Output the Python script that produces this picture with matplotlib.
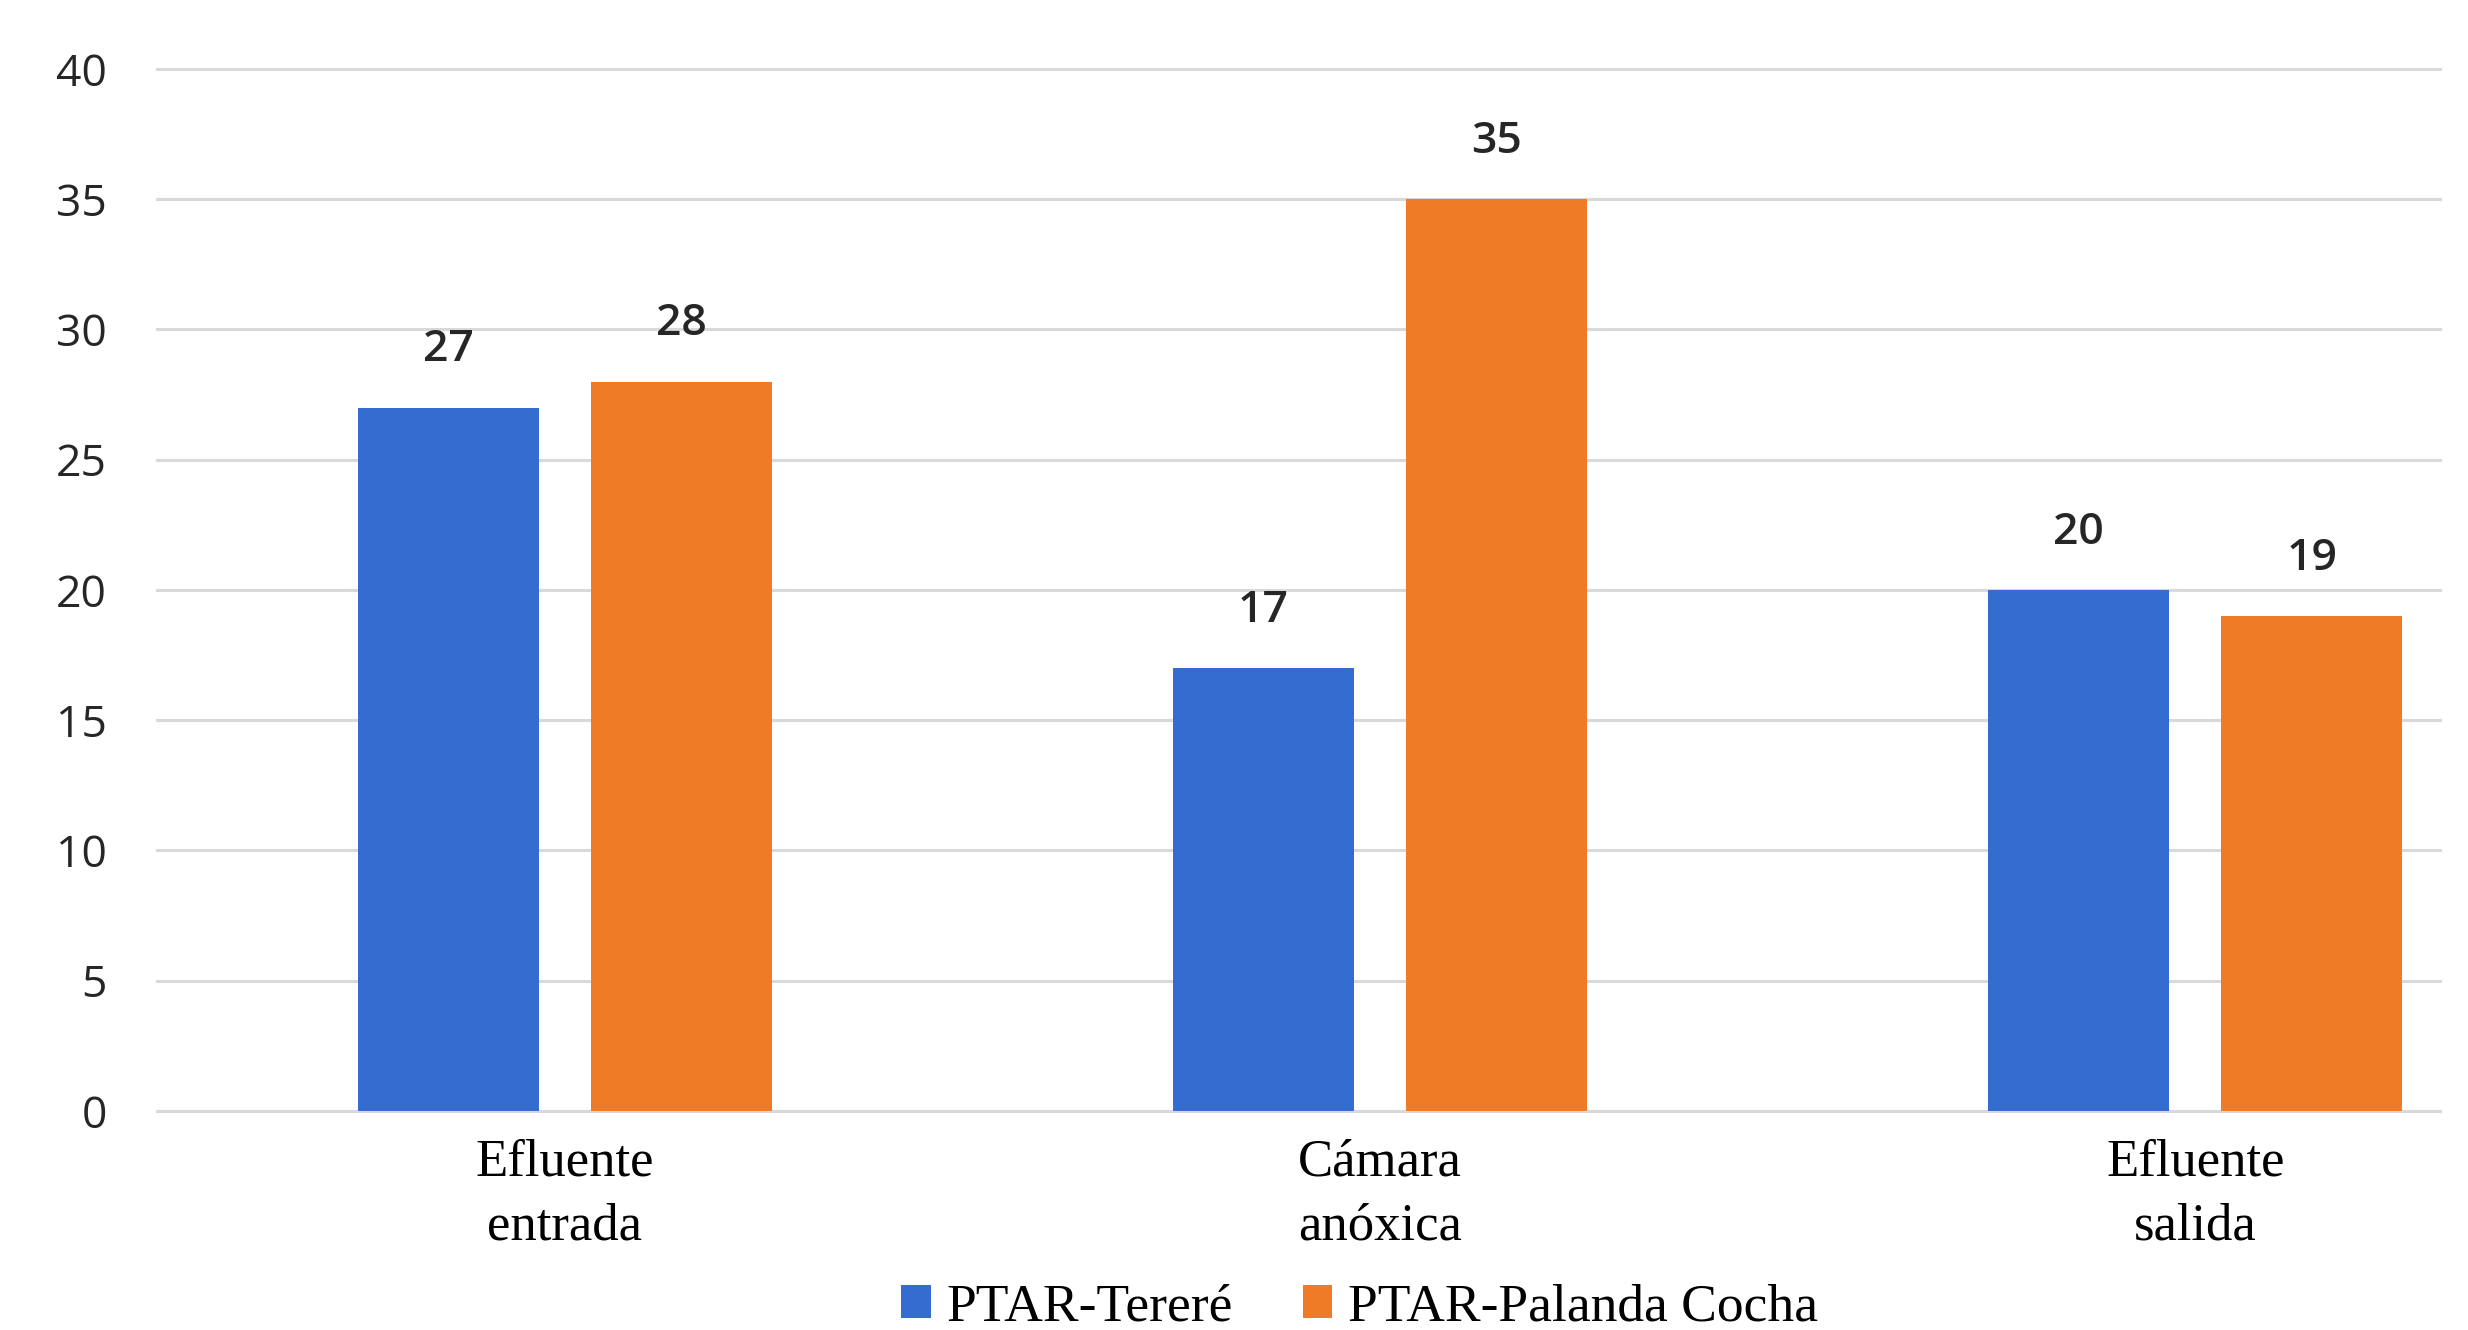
import matplotlib
matplotlib.use("Agg")
import matplotlib.pyplot as plt
import numpy as np

categorias = ["Efluente\nentrada", "Cámara\nanóxica", "Efluente\nsalida"]
series = ["PTAR-Tereré", "PTAR-Palanda Cocha"]
tarere = [27, 17, 20]
palanda = [28, 35, 19]
colores = ["#356CD0", "#EF7B27"]
yticks = [0, 5, 10, 15, 20, 25, 30, 35, 40]

fig = plt.figure(figsize=(24.68, 13.30), dpi=100)
ax = fig.add_axes([0.0636, 0.1647, 0.9250, 0.7835])

x = np.arange(len(categorias))
ancho = 0.222
desp = 0.143
b1 = ax.bar(x - desp, tarere, ancho, color=colores[0], label=series[0], zorder=3)
b2 = ax.bar(x + desp, palanda, ancho, color=colores[1], label=series[1], zorder=3)

for barras in (b1, b2):
    ax.bar_label(barras, padding=26, fontsize=32, fontfamily="Open Sans",
                 fontweight="semibold", color="#262626")

ax.set_xlim(-0.5, 2.30)
ax.set_ylim(0, 40)
ax.set_yticks(yticks)
ax.set_xticks(x)
ax.set_xticklabels(categorias, fontfamily="Liberation Serif", fontsize=38,
                   linespacing=1.42)
for t in ax.get_yticklabels():
    t.set_fontfamily("Open Sans")
    t.set_fontsize(32)
    t.set_color("#262626")

ax.tick_params(axis="x", length=0, pad=20)
ax.tick_params(axis="y", length=0, pad=36)
for s in ax.spines.values():
    s.set_visible(False)
ax.yaxis.grid(True, color="#D9D9D9", linewidth=2.2, zorder=0)
for g in ax.get_ygridlines():
    g.set_clip_on(False)

fig.legend(loc="center", bbox_to_anchor=(0.551, 0.017), ncol=2, frameon=False,
           prop={"family": "Liberation Serif", "size": 38.5},
           handlelength=0.55, handleheight=0.55, handletextpad=0.3,
           columnspacing=1.3, borderpad=0)

fig.savefig("out.png", dpi=100, facecolor="white")
